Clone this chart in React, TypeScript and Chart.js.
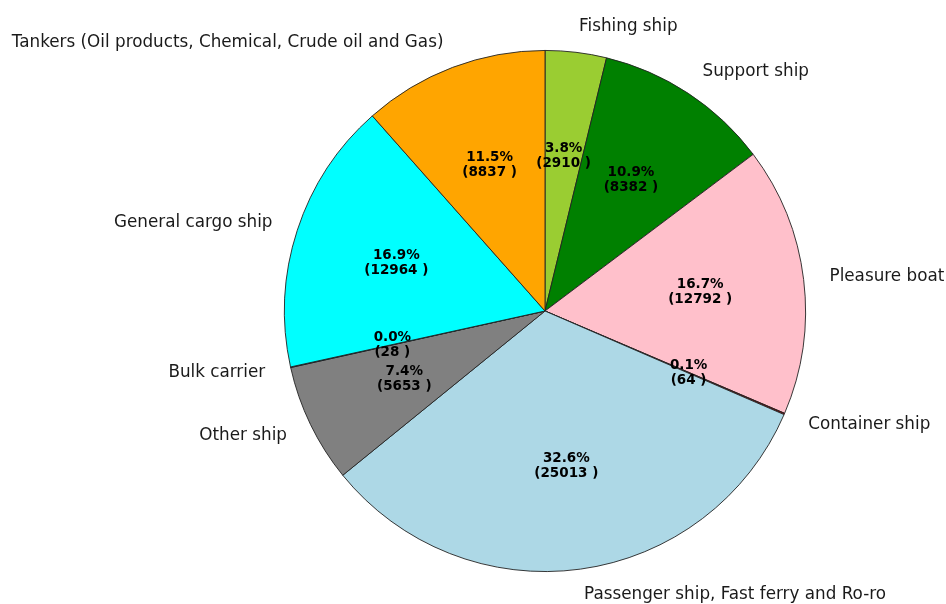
import React, { useEffect, useRef } from "react";
import { Chart, registerables } from "chart.js";

Chart.register(...registerables);

const categories = [
  "Fishing ship",
  "Support ship",
  "Pleasure boat",
  "Container ship",
  "Passenger ship, Fast ferry and Ro-ro",
  "Other ship",
  "Bulk carrier",
  "General cargo ship",
  "Tankers (Oil products, Chemical, Crude oil and Gas)",
];
const counts = [2910, 8382, 12792, 64, 25013, 5653, 28, 12964, 8837];
const colors = [
  "#9acd32",
  "#008000",
  "#ffc0cb",
  "#8b0000",
  "#add8e6",
  "#808080",
  "#00008b",
  "#00ffff",
  "#ffa500",
];

const FONT = "'DejaVu Sans', sans-serif";

const labelPlugin = {
  id: "pieLabels",
  afterDatasetsDraw(chart: any) {
    const ctx = chart.ctx;
    const meta = chart.getDatasetMeta(0);
    const data = chart.data.datasets[0].data as number[];
    const total = data.reduce((a, b) => a + b, 0);
    ctx.save();
    meta.data.forEach((arc: any, i: number) => {
      const { x, y, startAngle, endAngle, outerRadius } = arc.getProps(
        ["x", "y", "startAngle", "endAngle", "outerRadius"],
        true
      );
      const mid = (startAngle + endAngle) / 2;
      const c = Math.cos(mid);
      const s = Math.sin(mid);
      ctx.font = `16.8px ${FONT}`;
      ctx.fillStyle = "#1a1a1a";
      ctx.textBaseline = "middle";
      ctx.textAlign = c > 0 ? "left" : "right";
      ctx.fillText(chart.data.labels[i], x + 1.1 * outerRadius * c, y + 1.1 * outerRadius * s);
      const px = x + 0.6 * outerRadius * c;
      const py = y + 0.6 * outerRadius * s;
      const pct = ((data[i] / total) * 100).toFixed(1) + "%";
      const cnt = `(${data[i]} )`;
      ctx.font = `bold 13.5px ${FONT}`;
      ctx.fillStyle = "#000";
      ctx.textAlign = "center";
      ctx.fillText(pct, px, py - 7.5);
      ctx.fillText(cnt, px, py + 7.5);
    });
    ctx.restore();
  },
};

export default function App() {
  const ref = useRef<HTMLCanvasElement>(null);
  useEffect(() => {
    document.body.style.margin = "0";
    const chart = new Chart(ref.current!, {
      type: "pie",
      data: {
        labels: categories,
        datasets: [
          {
            data: counts,
            backgroundColor: colors,
            borderColor: "#222",
            borderWidth: 0.9,
          },
        ],
      },
      options: {
        animation: false,
        responsive: false,
        maintainAspectRatio: false,
        layout: { padding: { left: 284, right: 140, top: 50, bottom: 32 } },
        plugins: { legend: { display: false }, tooltip: { enabled: false } },
      },
      plugins: [labelPlugin],
    });
    return () => chart.destroy();
  }, []);
  return (
    <div style={{ width: 946, height: 604, background: "#fff" }}>
      <canvas ref={ref} width={946} height={604} />
    </div>
  );
}
